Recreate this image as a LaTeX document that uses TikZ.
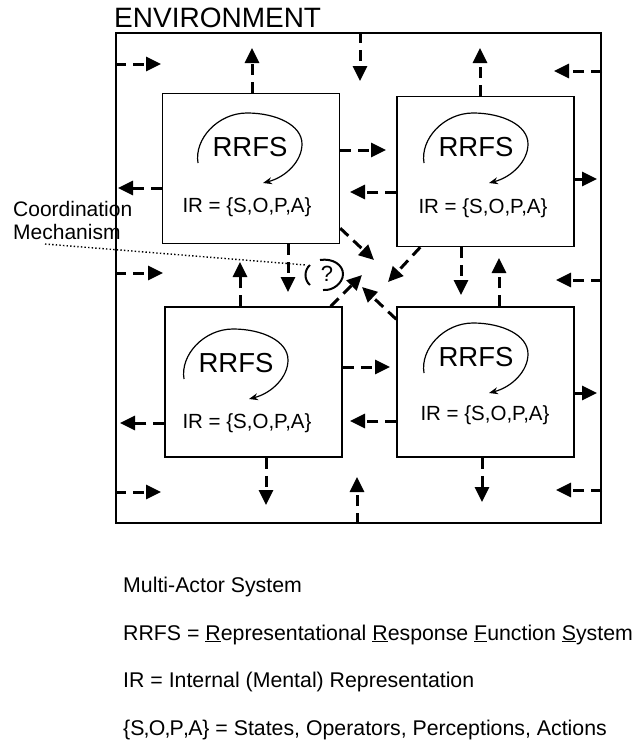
\documentclass[tikz,border=0pt]{standalone}
\usepackage{fontspec}
\setmainfont{Liberation Sans}
\usetikzlibrary{positioning,arrows.meta}

\begin{document}
\begin{tikzpicture}[x=1pt,y=-1pt,
  agent/.style={draw,line width=1.5pt,minimum width=177pt,minimum height=150pt,inner sep=0pt},
  act/.style={line width=3pt,dash pattern=on 11pt off 7pt,-{Triangle[length=15pt,width=14pt]}},
  loopline/.style={line width=1.2pt,-{Stealth[length=9pt,width=7pt]}},
  rrfs/.style={font=\fontsize{27.5}{30}\selectfont,inner sep=0pt},
  ir/.style={font=\fontsize{20.5}{24}\selectfont,inner sep=0pt,anchor=base},
  legend/.style={font=\fontsize{21.3}{24}\selectfont,inner sep=0pt,anchor=base west}]
\useasboundingbox (0,0) rectangle (632,742);

% environment frame
\node[draw,line width=2pt,minimum width=485pt,minimum height=490pt,inner sep=0pt] (env) at (358.5,278) {};
\node[font=\fontsize{28}{30}\selectfont,inner sep=0pt,anchor=base west] (envlbl) at (114,27) {ENVIRONMENT};

% the four actors
\foreach \n/\x/\y/\rx/\ry/\ix/\iy in {tl/251/168.5/250/147/247/212, tr/485.5/171.5/476/147/483/213, bl/253.5/382/236/363/247/428, br/485.5/382/476/357/485/420}{
  \node[agent] (\n) at (\x,\y) {};
  \node[rrfs] (\n-r) at (\rx,\ry) {RRFS};
  \node[ir] (\n-ir) at (\ix,\iy) {IR = \{S,O,P,A\}};
  \draw[loopline,shift={(\n-r)}] (-52,16) .. controls (-56,-8) and (-32,-34) .. (-3,-34) .. controls (26,-34) and (52,-22) .. (52,-3) .. controls (52,14) and (36,30) .. (13,36);
}

% free ends of the arrows
\foreach \c/\x/\y in {e1/161/64, e2/360/81, e3/554/71, e4/163/273, e5/556/280, e6/161/492, e7/357/477, e8/556/490,
  a1/252/48, a2/480/48, a3/386/150, a4/350/192, a5/118/188, a6/597/179, a7/288/292, a8/240/262,
  a9/461/295, a10/499/258, a11/390/367, a12/350/421, a13/120/423, a14/597/393, a15/266/505, a16/482/502,
  d1/374/260, d2/388/282, d3/362/275, d4/362/287}
  \coordinate (\c) at (\x,\y);

% environment to actors
\draw[act] (env.west |- e1) -- (e1);
\draw[act] (env.north -| e2) -- (e2);
\draw[act] (env.east |- e3) -- (e3);
\draw[act] (env.west |- e4) -- (e4);
\draw[act] (env.east |- e5) -- (e5);
\draw[act] (env.west |- e6) -- (e6);
\draw[act] (env.south -| e7) -- (e7);
\draw[act] (env.east |- e8) -- (e8);
% actors outward
\draw[act] (tl.north -| a1) -- (a1);
\draw[act] (tr.north -| a2) -- (a2);
\draw[act] (tl.east |- a3) -- (a3);
\draw[act] (tr.west |- a4) -- (a4);
\draw[act] (tl.west |- a5) -- (a5);
\draw[act] (tr.east |- a6) -- (a6);
\draw[act] (tl.south -| a7) -- (a7);
\draw[act] (bl.north -| a8) -- (a8);
\draw[act] (tr.south -| a9) -- (a9);
\draw[act] (br.north -| a10) -- (a10);
\draw[act] (bl.east |- a11) -- (a11);
\draw[act] (br.west |- a12) -- (a12);
\draw[act] (bl.west |- a13) -- (a13);
\draw[act] (br.east |- a14) -- (a14);
\draw[act] (bl.south -| a15) -- (a15);
\draw[act] (br.south -| a16) -- (a16);
% towards the coordination mechanism
\draw[act] ([yshift=16pt]tl.south east) -- (d1);
\draw[act] ([xshift=24pt]tr.south west) -- (d2);
\draw[act] ([xshift=-12pt]bl.north east) -- (d3);
\draw[act] ([yshift=-13pt]br.north west) -- (d4);

% coordination mechanism
\node[font=\fontsize{22}{24}\selectfont,inner sep=0pt] (qm) at (327,274) {?};
\draw[line width=2pt,shift={(qm)}] (-17,-9) .. controls (-23,-4) and (-23,6) .. (-17,11);
\draw[line width=2pt,shift={(qm)}] (-7,-14) .. controls (6,-16) and (16,-9) .. (16,0) .. controls (16,9) and (6,17) .. (-4,16);
\node[font=\fontsize{21}{22.6}\selectfont,inner sep=0pt,align=left,anchor=north west] (cm) at (13,201) {Coordination\\Mechanism};
\coordinate (tail) at (45,244);
\coordinate (hook) at (306,265);
\draw[line width=1.4pt,dash pattern=on 1.4pt off 2.2pt] (tail) -- (hook);

% legend
\node[legend] (l1) at (123,592) {Multi-Actor System};
\node[legend] (l2) at (123,640) {RRFS = \underline{R}epresentational \underline{R}esponse \underline{F}unction \underline{S}ystem};
\node[legend] (l3) at (123,687) {IR = Internal (Mental) Representation};
\node[legend] (l4) at (123,735) {\{S\kern-.8pt,\kern-.8pt O\kern-.8pt,\kern-.8pt P\kern-.8pt,\kern-.8pt A\} = States, Operators, Perceptions, Actions};
\end{tikzpicture}
\end{document}
